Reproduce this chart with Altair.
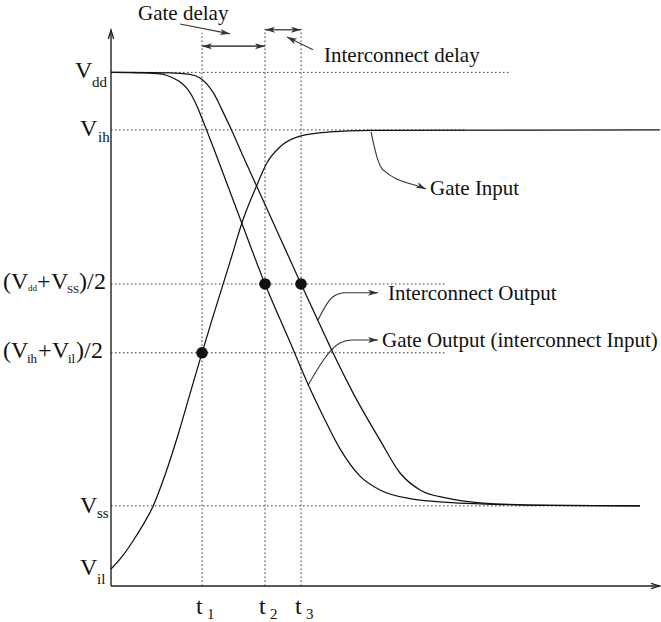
import altair as alt
import pandas as pd

# ---------------- data (time in ns, voltage in normalised units) ----------------
LEVEL_VALUES = [1.0, 0.888, 0.588, 0.454, 0.156, 0.033]   # Vdd, Vih, (Vdd+Vss)/2, (Vih+Vil)/2, Vss, Vil
DOTTED_LEVELS = [1.0, 0.888, 0.588, 0.454, 0.156]
DOTTED_LEVEL_END = [7.25, 6.47, 6.07, 6.07, 9.62]

T_VALUES = [1.655, 2.8, 3.455]          # t1, t2, t3
T_TOP = [1.077, 1.085, 1.085]

gate_in_t = [0, 0.2, 0.4, 0.582, 0.764, 0.982, 1.218, 1.436, 1.655, 1.836, 2.164, 2.4, 2.655, 2.836, 3.073, 3.436, 3.98, 4.71, 9.98]
gate_in_v = [0.033, 0.057, 0.0876, 0.119, 0.155, 0.216, 0.294, 0.374, 0.454, 0.518, 0.631, 0.713, 0.781, 0.824, 0.855, 0.876, 0.884, 0.887, 0.888]

gate_out_t = [0, 0.527, 0.891, 1.164, 1.273, 1.382, 1.473, 1.564, 1.655, 2.345, 2.8, 3.255, 3.582, 3.855, 4.164, 4.527, 4.891, 5.491, 6.109, 6.709, 7.982, 9.618]
gate_out_v = [1.0, 0.999, 0.997, 0.987, 0.980, 0.969, 0.954, 0.934, 0.910, 0.716, 0.588, 0.475, 0.393, 0.331, 0.267, 0.214, 0.187, 0.169, 0.163, 0.160, 0.157, 0.156]

ic_out_t = [0, 1.073, 1.436, 1.618, 1.745, 1.873, 2.018, 2.164, 2.4, 3.455, 3.927, 4.036, 4.4, 4.891, 5.255, 5.618, 6.109, 6.709, 7.982, 9.618]
ic_out_v = [1.0, 0.999, 0.996, 0.989, 0.977, 0.958, 0.927, 0.894, 0.837, 0.588, 0.479, 0.454, 0.376, 0.284, 0.220, 0.187, 0.171, 0.162, 0.157, 0.156]

DOTS_T = [1.655, 2.8, 3.455]
DOTS_V = [0.454, 0.588, 0.588]

# delay brackets
GATE_DELAY = (1.655, 2.8, 1.051)
IC_DELAY = (2.8, 3.455, 1.083)

# annotation pointers
ptr_gate_delay_t = [1.255, 2.164]
ptr_gate_delay_v = [1.094, 1.075]
ptr_ic_delay_t = [3.2, 3.673]
ptr_ic_delay_v = [1.069, 1.044]
ptr_gate_in_t = [4.727, 4.836, 4.945, 5.618, 5.727]
ptr_gate_in_v = [0.884, 0.835, 0.810, 0.777, 0.773]
ptr_ic_out_t = [3.764, 4.036, 4.255, 4.855]
ptr_ic_out_v = [0.518, 0.563, 0.571, 0.571]
ptr_gate_out_t = [3.582, 4.164, 4.382, 4.855]
ptr_gate_out_v = [0.391, 0.473, 0.479, 0.479]

AXIS_Y_TOP = 1.0825
AXIS_X_END = 9.98

# ---------------- layout ----------------
W, H = 550, 565
XMAX, YMAX = 10.0, 1.1
PX_T = W / XMAX
PX_V = H / YMAX
FONT = "Liberation Serif"

xs = alt.Scale(domain=[0, XMAX], nice=False, zero=False)
ys = alt.Scale(domain=[0, YMAX], nice=False, zero=False)


def X(f="t"):
    return alt.X(f"{f}:Q", scale=xs, axis=None)


def Y(f="v"):
    return alt.Y(f"{f}:Q", scale=ys, axis=None)


# curves
rows = []
for name, ts, vs in [("in", gate_in_t, gate_in_v), ("gout", gate_out_t, gate_out_v), ("icout", ic_out_t, ic_out_v)]:
    for i, (t, v) in enumerate(zip(ts, vs)):
        rows.append({"s": name, "i": i, "t": t, "v": v})
curves = alt.Chart(pd.DataFrame(rows)).mark_line(
    interpolate="monotone", color="#111", strokeWidth=1.25
).encode(x=X(), y=Y(), detail="s:N", order="i:Q")

# pointer curves
prow = []
for name, ts, vs in [("gd", ptr_gate_delay_t, ptr_gate_delay_v), ("id", ptr_ic_delay_t, ptr_ic_delay_v),
                     ("gi", ptr_gate_in_t, ptr_gate_in_v), ("io", ptr_ic_out_t, ptr_ic_out_v),
                     ("go", ptr_gate_out_t, ptr_gate_out_v)]:
    for i, (t, v) in enumerate(zip(ts, vs)):
        prow.append({"s": name, "i": i, "t": t, "v": v})
pointers = alt.Chart(pd.DataFrame(prow)).mark_line(
    interpolate="monotone", color="#333", strokeWidth=1.1
).encode(x=X(), y=Y(), detail="s:N", order="i:Q")

# dotted horizontal guides
hdf = pd.DataFrame({"t": [0] * len(DOTTED_LEVELS), "t2": DOTTED_LEVEL_END, "v": DOTTED_LEVELS})
hguides = alt.Chart(hdf).mark_rule(color="#333", strokeWidth=1, strokeDash=[1.5, 2.5]).encode(
    x=X(), x2="t2:Q", y=Y())

vdf = pd.DataFrame({"t": T_VALUES, "v": [0] * 3, "v2": T_TOP})
vguides = alt.Chart(vdf).mark_rule(color="#333", strokeWidth=1, strokeDash=[1.5, 2.5]).encode(
    x=X(), y=Y(), y2="v2:Q")

# axes
adf = pd.DataFrame({"t": [0, 0], "t2": [0, AXIS_X_END], "v": [0, 0], "v2": [AXIS_Y_TOP, 0]})
axes = alt.Chart(adf).mark_rule(color="#222", strokeWidth=1.4).encode(
    x=X(), x2="t2:Q", y=Y(), y2="v2:Q")

# delay brackets
bdf = pd.DataFrame({"t": [GATE_DELAY[0], IC_DELAY[0]], "t2": [GATE_DELAY[1], IC_DELAY[1]],
                    "v": [GATE_DELAY[2], IC_DELAY[2]]})
brackets = alt.Chart(bdf).mark_rule(color="#555", strokeWidth=1.6).encode(x=X(), x2="t2:Q", y=Y())

# arrowheads
heads = pd.DataFrame([
    {"t": GATE_DELAY[0], "v": GATE_DELAY[2], "a": 180},
    {"t": GATE_DELAY[1], "v": GATE_DELAY[2], "a": 0},
    {"t": IC_DELAY[0], "v": IC_DELAY[2], "a": 180},
    {"t": IC_DELAY[1], "v": IC_DELAY[2], "a": 0},
    {"t": ptr_gate_delay_t[-1], "v": ptr_gate_delay_v[-1], "a": 11},
    {"t": ptr_ic_delay_t[0], "v": ptr_ic_delay_v[0], "a": 207},
    {"t": ptr_gate_in_t[-1], "v": ptr_gate_in_v[-1], "a": 24},
    {"t": ptr_ic_out_t[-1], "v": ptr_ic_out_v[-1], "a": 0},
    {"t": ptr_gate_out_t[-1], "v": ptr_gate_out_v[-1], "a": 0},
])
arrowheads = alt.Chart(heads).mark_point(
    shape="M0,0L-1,-0.3L-0.75,0L-1,0.3Z", filled=True, color="#333", size=400, opacity=1
).encode(x=X(), y=Y(), angle=alt.Angle("a:Q", scale=None))

axheads = pd.DataFrame([{"t": 0, "v": AXIS_Y_TOP, "a": 270}, {"t": AXIS_X_END, "v": 0, "a": 0}])
axis_heads = alt.Chart(axheads).mark_point(
    shape="M-1,-0.3L0,0L-1,0.3", filled=False, color="#222", size=324, strokeWidth=1.3, opacity=1
).encode(x=X(), y=Y(), angle=alt.Angle("a:Q", scale=None))

# dots
dots = alt.Chart(pd.DataFrame({"t": DOTS_T, "v": DOTS_V})).mark_circle(
    color="#111", size=135, opacity=1).encode(x=X(), y=Y())

# ---------------- text (anchor in data units, offsets in px) ----------------
L = LEVEL_VALUES
pieces = [
    # (anchor t, anchor v, dx px, dy px, text, font size)
    (0, L[0], -36, 6, "V", 24), (0, L[0], -19, 15, "dd", 15),
    (0, L[1], -31, 6, "V", 24), (0, L[1], -13, 12, "ih", 15),
    (0, L[4], -31, 7, "V", 24), (0, L[4], -14, 12, "ss", 15),
    (0, L[5], -31, 6, "V", 24), (0, L[5], -14, 15, "il", 15),
    (0, L[2], -108, 5, "(", 24), (0, L[2], -100, 5, "V", 24), (0, L[2], -83, 7, "dd", 9),
    (0, L[2], -74, 5, "+", 24), (0, L[2], -60, 5, "V", 24), (0, L[2], -44, 9, "SS", 11),
    (0, L[2], -32, 5, ")", 24), (0, L[2], -24, 5, "/", 24), (0, L[2], -17, 5, "2", 24),
    (0, L[3], -108, 5, "(", 24), (0, L[3], -100, 5, "V", 24), (0, L[3], -84, 10, "ih", 13),
    (0, L[3], -73, 5, "+", 24), (0, L[3], -59, 5, "V", 24), (0, L[3], -43, 10, "il", 13),
    (0, L[3], -35, 5, ")", 24), (0, L[3], -27, 5, "/", 24), (0, L[3], -20, 5, "2", 24),
]
for k, tv in enumerate(T_VALUES):
    pieces.append((tv, 0, -6, 28, "t", 24))
    pieces.append((tv, 0, 5, 33, str(k + 1), 15))

pieces += [
    (ptr_gate_delay_t[0], ptr_gate_delay_v[0], -42, -4, "Gate delay", 21),
    (ptr_ic_delay_t[-1], ptr_ic_delay_v[-1], 11, 12, "Interconnect delay", 21),
    (ptr_gate_in_t[-1], ptr_gate_in_v[-1], 4, 6, "Gate Input", 21),
    (ptr_ic_out_t[-1], ptr_ic_out_v[-1], 10, 7, "Interconnect Output", 21),
    (ptr_gate_out_t[-1], ptr_gate_out_v[-1], 4, 7, "Gate Output (interconnect Input)", 21),
]

tdf = pd.DataFrame([
    {"t": at + dx / PX_T, "v": av - dy / PX_V, "txt": s, "fs": fs}
    for (at, av, dx, dy, s, fs) in pieces
])
texts = alt.Chart(tdf).mark_text(
    align="left", baseline="alphabetic", font=FONT, color="#111"
).encode(x=X(), y=Y(), text="txt:N", size=alt.Size("fs:Q", scale=None))

chart = alt.layer(
    hguides, vguides, axes, brackets, pointers, curves, dots, arrowheads, axis_heads, texts
).properties(
    width=W, height=H,
    padding={"left": 111, "top": 21, "right": 0, "bottom": 36},
    autosize=alt.AutoSizeParams(type="none"),
    background="white",
).configure_view(stroke=None)

chart.save("out.html", embed_options={"renderer": "svg", "actions": False})
